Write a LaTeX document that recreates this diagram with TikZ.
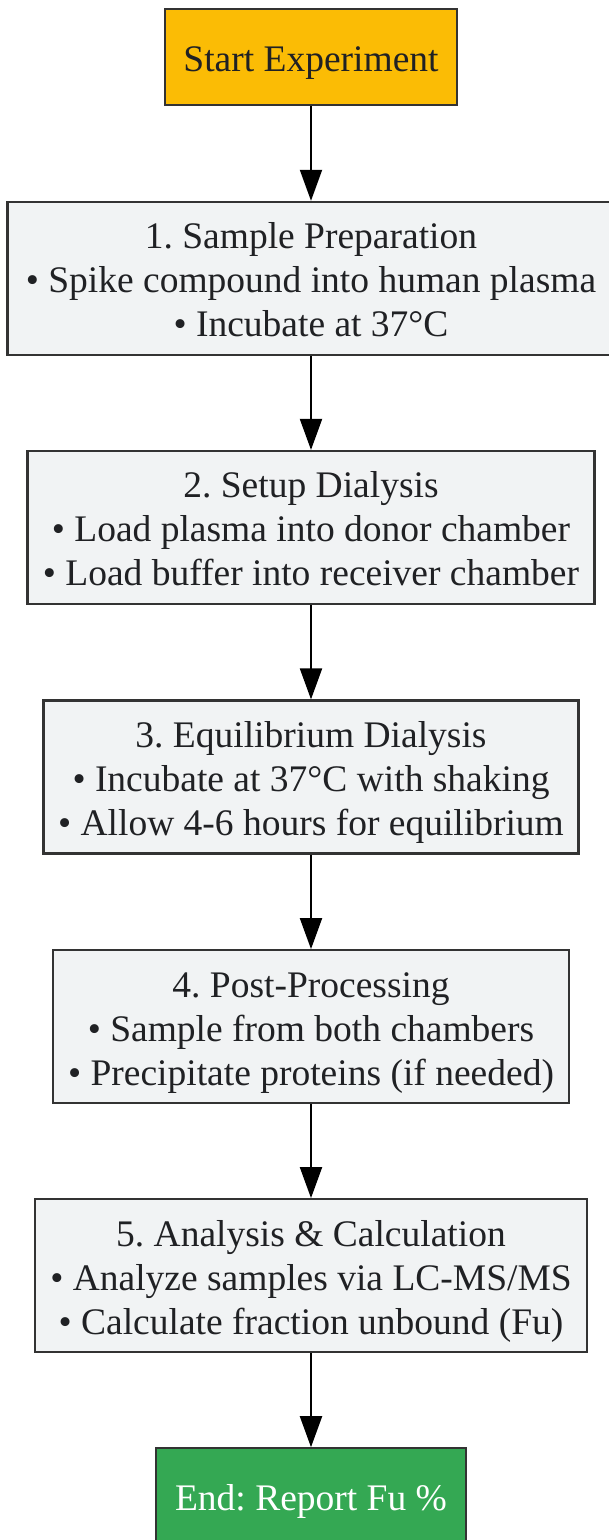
\documentclass[tikz,border=0pt]{standalone}
\usepackage{fontspec}
\setmainfont{Liberation Serif}
\frenchspacing
\usetikzlibrary{arrows.meta}
\definecolor{startc}{HTML}{FBBC05}
\definecolor{stepc}{HTML}{F1F3F4}
\definecolor{endc}{HTML}{34A853}
\definecolor{bordc}{HTML}{333333}
\definecolor{txtc}{HTML}{202124}
\newcommand\boxtext[1]{\raisebox{0pt}[\dimexpr\height+11pt\relax]{\begin{tabular}{@{}c@{}}#1\end{tabular}}}
\tikzset{
  box/.style={draw=bordc, line width=2.2pt, inner sep=0pt,
    text=txtc, font=\fontsize{37.5}{44}\selectfont},
  stepbox/.style={box, fill=stepc, minimum height=153pt},
  termbox/.style={box, minimum height=96pt},
  flow/.style={line width=2pt, -{Triangle[length=31pt,width=22pt]}}
}
\begin{document}
\begin{tikzpicture}[x=1pt,y=-1pt]
\useasboundingbox (0,0) rectangle (609,1540);
\node[termbox, fill=startc, minimum width=292pt] (start) at (311,57.3) {\boxtext{Start Experiment}};
\node[stepbox, minimum width=607pt] (s1) at (311,278.4) {\boxtext{1. Sample Preparation\\• Spike compound into human plasma\\• Incubate at 37°C}};
\node[stepbox, minimum width=567pt] (s2) at (311,527.5) {\boxtext{2. Setup Dialysis\\• Load plasma into donor chamber\\• Load buffer into receiver chamber}};
\node[stepbox, minimum width=535pt] (s3) at (311,777) {\boxtext{3. Equilibrium Dialysis\\• Incubate at 37°C with shaking\\• Allow 4-6 hours for equilibrium}};
\node[stepbox, minimum width=516pt] (s4) at (311,1026.7) {\boxtext{4. Post-Processing\\• Sample from both chambers\\• Precipitate proteins (if needed)}};
\node[stepbox, minimum width=552pt] (s5) at (311,1275.7) {\boxtext{5. Analysis \& Calculation\\• Analyze samples via LC-MS/MS\\• Calculate fraction unbound (Fu)}};
\node[termbox, fill=endc, text=white, minimum width=310pt] (end) at (311,1496.3) {\boxtext{End: Report Fu \%}};
\draw[flow] (start) -- (s1);
\draw[flow] (s1) -- (s2);
\draw[flow] (s2) -- (s3);
\draw[flow] (s3) -- (s4);
\draw[flow] (s4) -- (s5);
\draw[flow] (s5) -- (end);
\end{tikzpicture}
\end{document}
